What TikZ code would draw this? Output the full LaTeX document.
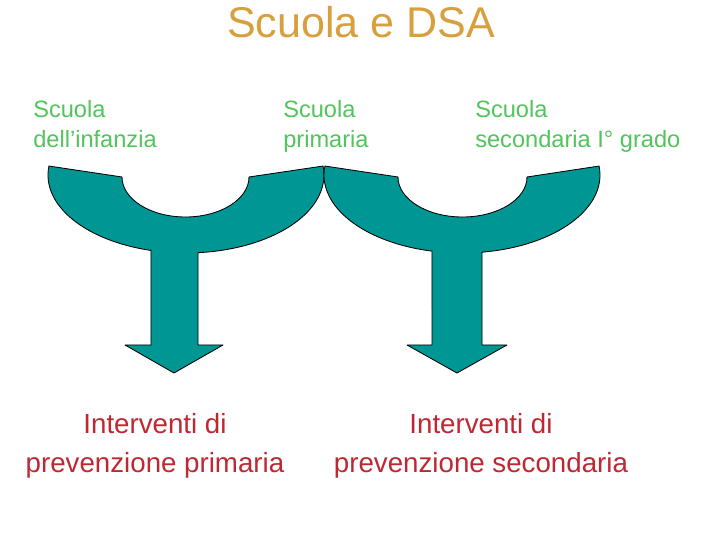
\documentclass[tikz,border=0pt]{standalone}
\usepackage{fontspec}
\setmainfont{Liberation Sans}
\usepackage{tkz-euclide}
\usetikzlibrary{calc}

\definecolor{titlegold}{RGB}{216,160,60}
\definecolor{schoolgreen}{RGB}{82,196,92}
\definecolor{preventred}{RGB}{190,40,50}
\definecolor{forkteal}{RGB}{0,150,148}

\tikzset{
  school/.style={anchor=base west,align=left,text=schoolgreen,inner sep=0pt,
    font=\fontsize{16.8}{22}\selectfont},
  prevent/.style={anchor=base,align=center,text=preventred,inner sep=0pt,
    font=\fontsize{19.7}{27.7}\selectfont},
  forkshape/.style={fill=forkteal,draw=black,line width=0.6pt,line join=round}
}

\begin{document}
\begin{tikzpicture}

\fill[white] (0,0) rectangle (18,13.5);
\useasboundingbox (0,0) rectangle (18,13.5);

% centres of the two half rings
\tkzDefPoint(4.65,9.125){O1}
\tkzDefPoint(4.6375,9.075){I1}
\tkzDefPoint(11.55,9.125){O2}
\tkzDefPoint(11.5625,9.075){I2}
% stems and heads
\tkzDefPoint(4.95,4.875){A1}
\tkzDefPoint(5.575,4.875){B1}
\tkzDefPoint(4.35,4.175){T1}
\tkzDefPoint(3.125,4.875){C1}
\tkzDefPoint(3.775,4.875){D1}
\tkzDefPoint(12.05,4.875){A2}
\tkzDefPoint(12.675,4.875){B2}
\tkzDefPoint(11.425,4.175){T2}
\tkzDefPoint(10.175,4.875){C2}
\tkzDefPoint(10.8,4.875){D2}

\draw[forkshape] ($(O1)+(173.4:3.45 and 1.95)$) -- ($(I1)+(180:1.5875 and 1)$)
  arc[start angle=180,end angle=360,x radius=1.5875,y radius=1]
  -- ($(O1)+(6.6:3.45 and 1.95)$)
  arc[start angle=6.6,end angle=-85,x radius=3.45,y radius=1.95]
  -- (A1) -- (B1) -- (T1) -- (C1) -- (D1)
  -- ($(O1)+(-104.7:3.45 and 1.95)$)
  arc[start angle=-104.7,end angle=-186.6,x radius=3.45,y radius=1.95]
  -- cycle;

\draw[forkshape] ($(O2)+(173.4:3.45 and 1.95)$) -- ($(I2)+(180:1.6125 and 1)$)
  arc[start angle=180,end angle=360,x radius=1.6125,y radius=1]
  -- ($(O2)+(6.6:3.45 and 1.95)$)
  arc[start angle=6.6,end angle=-81.66,x radius=3.45,y radius=1.95]
  -- (A2) -- (B2) -- (T2) -- (C2) -- (D2)
  -- ($(O2)+(-102.56:3.45 and 1.95)$)
  arc[start angle=-102.56,end angle=-186.6,x radius=3.45,y radius=1.95]
  -- cycle;

\node[text=titlegold,font=\fontsize{30.6}{36}\selectfont,anchor=base] (title)
  at (9.025,12.55) {Scuola e DSA};

\node[school] (infanzia) at (0.825,9.8) {Scuola\\dell’infanzia};
\node[school] (primaria) at (7.075,9.8) {Scuola\\primaria};
\node[school] (secondaria) at (11.875,9.8) {Scuola\\secondaria I° grado};

\node[prevent] (prevprim) at (3.875,1.7) {Interventi di\\prevenzione primaria};
\node[prevent] (prevsec) at (12.025,1.7) {Interventi di\\prevenzione secondaria};

\end{tikzpicture}
\end{document}
